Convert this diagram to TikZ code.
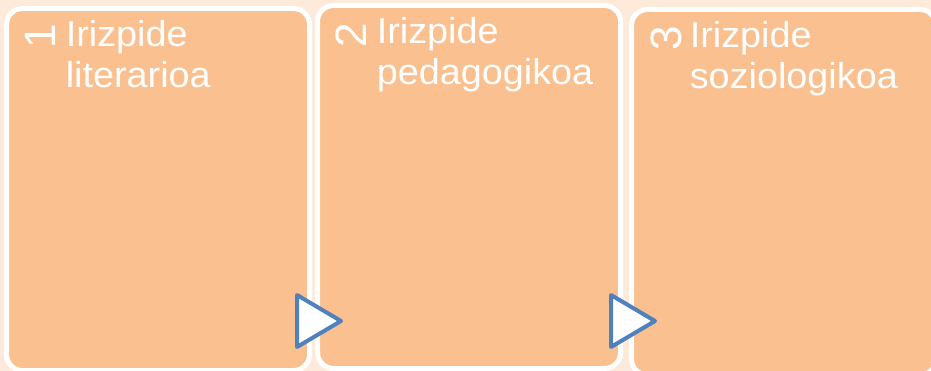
\documentclass[tikz,border=0pt]{standalone}
\usepackage{fontspec}
\setmainfont{Liberation Sans}
\newfontfamily\labfont[FakeStretch=1.05]{Liberation Sans}
\definecolor{bgpeach}{HTML}{FDEADA}
\definecolor{boxfill}{HTML}{FAC090}
\definecolor{triblue}{HTML}{4F81BD}
\begin{document}
\begin{tikzpicture}[x=1pt,y=-1pt,
  card/.style={draw=white,line width=5pt,fill=boxfill,rounded corners=16pt},
  lab/.style={anchor=base west,inner sep=0pt,text=white,font=\labfont\fontsize{36}{40}\selectfont},
  num/.style={inner sep=0pt,text=white,rotate=90,font=\fontsize{44}{44}\selectfont},
  tri/.style={draw=triblue,fill=white,line width=4pt,line join=round}]
\fill[bgpeach] (0,0) rectangle (931,371);
\useasboundingbox (0,0) rectangle (931,371);
% cards
\draw[card] (6.5,8.5) rectangle (309.5,370.5);
\draw[card] (317.5,5.5) rectangle (620.5,368.5);
\draw[card] (631.5,9.5) rectangle (936,375);
% numbers
\node[num] (n1) at (40,36.5) {1};
\node[num] (n2) at (351,35) {2};
\node[num] (n3) at (666,38.5) {3};
% texts
\node[lab] (t1a) at (65.6,47) {Irizpide};
\node[lab] (t1b) at (65.6,88) {literarioa};
\node[lab] (t2a) at (376.6,44) {Irizpide};
\node[lab] (t2b) at (376.6,85) {pedagogikoa};
\node[lab] (t3a) at (689.6,48) {Irizpide};
\node[lab] (t3b) at (689.6,89) {soziologikoa};
% triangles
\draw[tri] (297,295) -- (341,321) -- (297,347) -- cycle;
\draw[tri] (611,295) -- (655,321) -- (611,347) -- cycle;
\end{tikzpicture}
\end{document}
